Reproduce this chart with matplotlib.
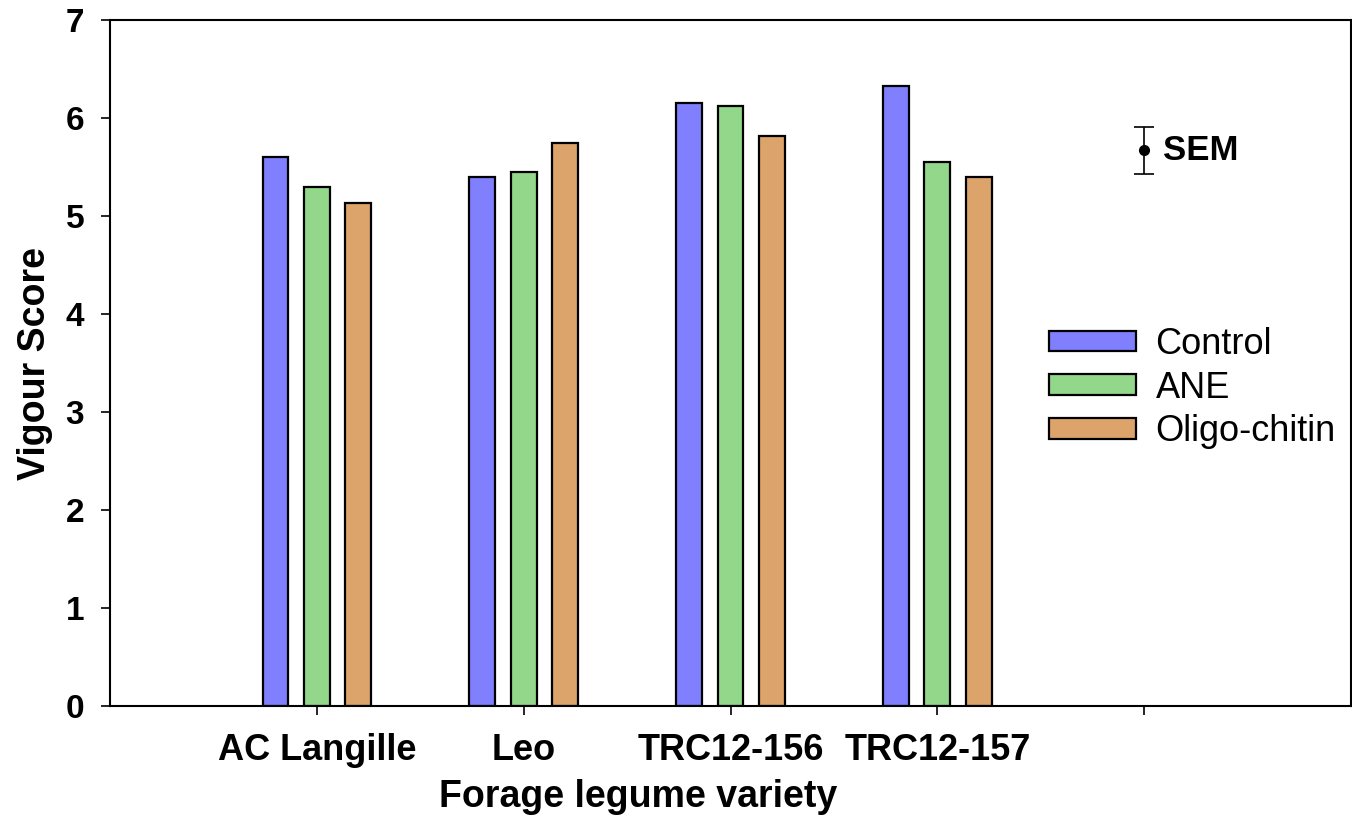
import matplotlib
matplotlib.use("Agg")
import matplotlib.pyplot as plt
from matplotlib.patches import Patch
import numpy as np

plt.rcParams["font.family"] = ["Liberation Sans", "DejaVu Sans"]

varieties = ["AC Langille", "Leo", "TRC12-156", "TRC12-157"]
treatments = ["Control", "ANE", "Oligo-chitin"]
control = [5.60, 5.40, 6.15, 6.33]
ane = [5.30, 5.45, 6.12, 5.55]
oligo = [5.13, 5.75, 5.82, 5.40]
sem_value = 0.24
sem_center = 5.67

colors = ["#8080FF", "#93D88A", "#DCA46A"]

fig = plt.figure(figsize=(13.52, 8.19), dpi=100)
ax = fig.add_axes([110 / 1352, 1 - 706 / 819, 1241 / 1352, 686 / 819])

x = np.arange(1, len(varieties) + 1)
width = 0.125
offsets = [-0.2, 0.0, 0.2]
for vals, off, col, name in zip([control, ane, oligo], offsets, colors, treatments):
    ax.bar(x + off, vals, width, color=col, edgecolor="black", linewidth=1.6,
           label=name, zorder=2)

# SEM bar drawn at the spare category slot
ax.errorbar([5], [sem_center], yerr=[sem_value], fmt="o", color="black",
            markersize=7, capsize=7, elinewidth=1.2, capthick=1.2)
ax.text(5.09, sem_center, "SEM", fontsize=25, fontweight="bold",
        va="center", ha="left")

ax.set_xlim(0, 6)
ax.set_ylim(0, 7)
ax.set_xticks(list(x) + [5])
ax.set_xticklabels(varieties + [""], fontsize=26, fontweight="bold")
ax.set_yticks(range(0, 8))
ax.set_yticklabels([str(v) for v in range(0, 8)], fontsize=24, fontweight="bold")
ax.tick_params(axis="both", direction="out", length=6.5, width=1.2)
ax.tick_params(axis="x", pad=13)
ax.tick_params(axis="y", pad=12)

for s in ax.spines.values():
    s.set_linewidth(1.5)

ax.set_ylabel("Vigour Score", fontsize=27, fontweight="bold", va="center")
ax.yaxis.set_label_coords(-75 / 1241, 0.5)
ax.set_xlabel("Forage legume variety", fontsize=27, fontweight="bold", va="center")
ax.xaxis.set_label_coords((638 - 110) / 1241, (706 - 797) / 686)

handles = [Patch(facecolor=c, edgecolor="black", linewidth=1.6) for c in colors]
ax.legend(handles, treatments, loc="center left",
          bbox_to_anchor=((1049 - 110) / 1241, (706 - 388) / 686),
          frameon=False, fontsize=26, handlelength=2.4, handleheight=0.5,
          handletextpad=0.55, labelspacing=0.24, borderpad=0, borderaxespad=0)

fig.savefig("out.png", dpi=100)
